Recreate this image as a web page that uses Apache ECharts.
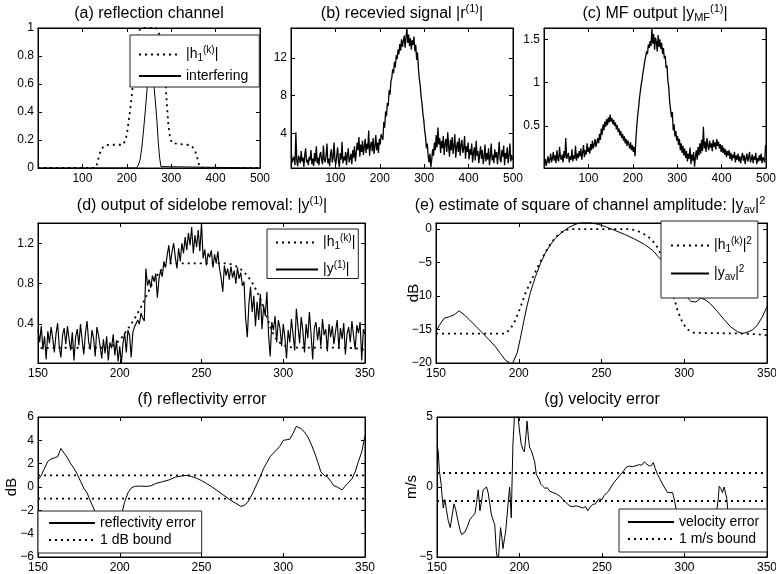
<!DOCTYPE html>
<html><head><meta charset="utf-8">
<script src="https://cdn.jsdelivr.net/npm/echarts@6/dist/echarts.min.js"></script>
<style>html,body{margin:0;padding:0;background:#fff}#c{width:776px;height:574px}</style>
</head><body><div id="c"></div>
<script>
const FONT = '"Liberation Sans", Arial, Helvetica, sans-serif';

// ---------- (a) reflection channel ----------
const h1X = [0,128,132,137,142,147,152,160,192,195,198,201,204,207,210,213,216,219,222,225,228,231,266,270,274,278,281,284,287,290,293,296,299,302,306,335,343,348,353,358,363,367,500];
const h1Y = [0,0,0.02,0.08,0.13,0.15,0.163,0.166,0.166,0.18,0.21,0.26,0.33,0.4,0.48,0.57,0.67,0.77,0.86,0.93,0.98,1.0,1.0,0.983,0.944,0.88,0.81,0.72,0.61,0.47,0.33,0.245,0.2,0.178,0.168,0.166,0.163,0.15,0.13,0.08,0.02,0,0];
const intX = [0,222,226,230,234,238,242,246,250,254,258,262,265,268,271,274,277,279,500];
const intY = [0,0,0.02,0.06,0.15,0.28,0.42,0.58,0.72,0.77,0.7,0.56,0.45,0.33,0.18,0.07,0.01,0,0];

// ---------- (b) received signal |r| (samples x = 1,3,5,...,499) ----------
const bX0 = 1, bStep = 2;
const bVals = [
1.8,0.9,1.2,1.5,0.6,4.1,1.1,0.5,1.6,1.3,
0.8,2.1,1.0,1.4,0.4,1.7,2.4,0.9,1.2,0.6,
1.5,1.1,2.2,0.7,1.3,0.5,1.9,1.0,2.6,0.8,
1.4,0.6,1.7,2.0,1.1,0.7,2.7,1.2,0.9,1.6,
2.9,0.8,1.3,0.5,1.8,2.3,0.9,1.4,3.0,1.1,
0.7,1.6,2.5,1.0,0.4,1.9,1.2,3.1,0.8,1.5,
1.1,2.0,0.6,1.7,2.4,0.9,1.3,1.8,0.7,2.2,
1.4,2.6,1.0,1.9,3.0,2.2,3.6,1.5,2.8,2.0,
3.2,1.7,2.5,3.4,1.9,2.9,2.3,4.3,1.6,2.7,
3.1,2.1,3.5,1.8,2.6,3.8,2.2,3.0,1.9,3.4,
2.8,3.9,4.1,3.3,5.2,4.6,6.3,5.8,7.2,6.9,
8.6,8.1,9.5,9.9,10.8,10.4,11.6,11.0,12.3,11.9,
12.9,12.4,13.5,12.8,14.0,13.2,13.8,14.4,13.1,14.2,
15.2,13.6,14.5,13.3,14.1,12.9,13.9,13.4,14.3,12.7,
13.4,11.8,12.6,10.9,9.8,9.1,7.9,7.2,6.1,5.4,
4.3,3.6,2.4,2.9,1.5,0.9,1.8,0.4,1.2,2.3,
1.6,3.0,2.2,3.8,2.5,4.6,2.8,3.5,1.9,3.2,
2.4,3.7,1.7,2.9,3.4,2.0,4.1,2.6,1.5,3.3,
2.2,3.6,1.8,2.7,3.9,1.4,2.5,3.1,2.0,3.5,
1.6,2.8,3.3,1.9,2.4,3.7,1.3,2.6,2.0,3.0,
1.2,2.3,1.7,2.9,0.9,1.9,2.5,1.1,3.2,1.6,
2.1,0.8,1.8,2.6,1.3,2.2,0.7,1.5,2.8,1.0,
1.9,1.2,2.4,0.6,1.6,2.9,1.1,1.7,0.8,2.3,
1.4,2.0,0.7,1.8,3.1,1.2,0.9,2.2,1.5,2.7,
0.6,1.9,1.3,2.5,0.8,1.6,2.9,1.0,1.7,1.2];

// ---------- (c) MF output |y_MF| (samples x = 1,3,5,...,499) ----------
const cX0 = 1, cStep = 2;
const cVals = [
0.06,0.12,0.04,0.09,0.15,0.07,0.11,0.18,0.08,0.13,
0.2,0.1,0.16,0.07,0.22,0.12,0.09,0.26,0.14,0.11,
0.17,0.08,0.21,0.13,0.36,0.12,0.1,0.19,0.08,0.15,
0.11,0.23,0.09,0.16,0.12,0.27,0.1,0.18,0.13,0.21,
0.15,0.24,0.11,0.19,0.28,0.14,0.22,0.17,0.3,0.2,
0.25,0.18,0.29,0.22,0.33,0.24,0.28,0.35,0.26,0.31,
0.36,0.3,0.41,0.34,0.47,0.4,0.52,0.45,0.55,0.49,
0.58,0.51,0.6,0.54,0.63,0.55,0.59,0.52,0.57,0.5,
0.54,0.46,0.51,0.43,0.47,0.39,0.44,0.36,0.41,0.33,
0.38,0.3,0.35,0.27,0.33,0.29,0.24,0.31,0.22,0.28,
0.2,0.26,0.15,0.35,0.5,0.62,0.71,0.82,0.9,0.98,
1.04,1.12,1.18,1.25,1.3,1.36,1.33,1.44,1.4,1.48,
1.42,1.63,1.45,1.56,1.38,1.52,1.47,1.36,1.55,1.41,
1.5,1.39,1.46,1.33,1.4,1.28,1.31,1.17,1.2,1.02,
0.95,0.78,0.8,0.6,0.66,0.45,0.52,0.38,0.44,0.33,
0.38,0.28,0.35,0.22,0.3,0.19,0.27,0.16,0.24,0.13,
0.21,0.09,0.18,0.12,0.25,0.06,0.17,0.1,0.2,0.03,
0.14,0.22,0.11,0.26,0.16,0.3,0.18,0.34,0.21,0.49,
0.24,0.32,0.2,0.36,0.27,0.22,0.33,0.25,0.3,0.21,
0.34,0.26,0.31,0.23,0.35,0.27,0.32,0.24,0.29,0.2,
0.28,0.19,0.25,0.17,0.23,0.14,0.21,0.16,0.22,0.12,
0.19,0.1,0.17,0.13,0.2,0.08,0.16,0.11,0.18,0.09,
0.15,0.07,0.14,0.19,0.1,0.16,0.06,0.13,0.18,0.09,
0.14,0.2,0.08,0.12,0.17,0.07,0.15,0.11,0.19,0.06,
0.13,0.09,0.16,0.1,0.18,0.07,0.14,0.11,0.08,0.28];

// ---------- (d) sidelobe removal |y(1)| (samples x = 150..350) ----------
const dX0 = 150, dStep = 1;
const dVals = [
0.35,0.22,0.38,0.15,0.28,0.05,0.33,0.21,0.37,0.26,
0.12,0.3,0.41,0.18,0.07,0.29,0.36,0.2,0.38,0.25,
0.14,0.32,0.04,0.27,0.35,0.19,0.4,0.24,0.1,0.31,
0.43,0.22,0.15,0.34,0.26,0.08,0.37,0.29,0.18,0.06,
0.25,0.11,0.28,0.04,0.22,0.16,0.3,0.09,0.24,0.03,
0.18,0.01,0.21,0.31,0.12,0.34,0.29,0.07,0.32,0.37,
0.36,0.44,0.4,0.51,0.46,0.43,0.95,0.78,0.84,0.76,
0.88,0.82,0.9,0.66,0.85,0.93,0.87,1.02,0.96,1.08,
1.18,1.0,1.12,1.2,1.06,0.95,1.15,1.02,1.2,1.1,
1.26,1.13,1.3,1.18,1.36,1.1,1.28,1.16,1.33,1.12,
1.4,1.05,1.14,0.98,1.1,1.06,1.13,0.96,1.09,1.0,
1.12,0.95,0.86,0.72,0.98,0.88,0.95,0.84,0.97,0.86,
0.93,0.8,0.96,0.85,0.91,0.78,0.82,0.46,0.27,0.6,
0.77,0.52,0.68,0.38,0.62,0.44,0.7,0.35,0.58,0.48,
0.72,0.3,0.08,0.42,0.34,0.48,0.22,0.44,0.36,0.18,
0.4,0.27,0.06,0.34,0.22,0.45,0.3,0.14,0.55,0.38,
0.21,0.47,0.33,0.12,0.4,0.26,0.52,0.3,0.05,0.36,
0.42,0.24,0.37,0.18,0.45,0.29,0.35,0.13,0.4,0.27,
0.38,0.2,0.33,0.44,0.16,0.36,0.25,0.41,0.1,0.3,
0.37,0.22,0.43,0.28,0.15,0.39,0.31,0.42,0.04,0.35,
0.3];

// ---------- (e) square of channel amplitude (dB) ----------
const eDX = [150,192,195,198,201,204,207,210,213,216,219,222,225,228,231,266,270,274,278,281,284,287,290,293,296,299,302,306,335,343,348,350];
const eDY = [-15.6,-15.6,-14.9,-13.6,-11.7,-9.6,-8.0,-6.4,-4.9,-3.5,-2.3,-1.3,-0.6,-0.2,0,0,-0.15,-0.5,-1.1,-1.8,-2.8,-4.3,-6.5,-9.5,-12.2,-14.0,-15.0,-15.5,-15.6,-15.7,-15.8,-15.9];
const eSX = [150,152,155,158,161,164,167,170,174,178,182,186,189,192,194,196,197,199,201,203,205,207,210,213,216,219,222,226,230,234,238,243,248,253,258,264,270,276,281,286,290,294,298,301,304,307,310,313,316,320,324,328,332,335,338,341,344,347,350];
const eSY = [-15.3,-14.4,-13.3,-13.1,-12.8,-12.2,-12.8,-13.5,-14.5,-15.5,-16.5,-17.6,-18.6,-19.6,-19.9,-20.2,-20.0,-18.5,-16.3,-13.8,-11.5,-9.5,-7.2,-5.2,-3.6,-2.4,-1.4,-0.5,0.2,0.7,0.95,0.95,0.7,0.3,-0.2,-0.8,-1.5,-2.3,-3.2,-4.6,-6.3,-8.0,-9.3,-10.0,-10.8,-10.9,-10.3,-10.6,-11.2,-12.3,-13.5,-14.6,-15.3,-15.6,-15.4,-15.1,-14.4,-13.2,-11.6];

// ---------- (f) reflectivity error (dB) ----------
const fX = [150,152,154,156,158,160,162,164,166,168,170,172,174,176,178,180,182,184,186,190,194,198,201,203,205,207,209,212,216,219,222,226,230,234,238,241,244,247,250,253,256,259,262,265,268,271,274,276,278,280,282,284,286,288,290,292,294,296,298,300,302,304,306,308,309,311,313,315,317,319,321,323,325,327,329,331,333,334,336,338,340,342,344,346,348,350];
const fY = [0.6,1.0,1.6,2.2,2.4,2.5,2.6,3.3,2.9,2.5,2.0,1.6,1.1,0.5,-0.1,-0.5,-1.2,-1.8,-2.6,-4.0,-4.8,-4.0,-2.4,-1.3,-0.5,-0.1,0.05,0.08,0.05,0.1,0.3,0.45,0.6,0.85,0.95,1.0,0.9,0.75,0.55,0.3,0.05,-0.25,-0.55,-0.85,-1.15,-1.4,-1.65,-1.6,-1.35,-0.9,-0.3,0.3,0.9,1.6,2.1,2.6,2.9,3.2,3.5,4.0,4.05,4.1,4.6,5.2,5.3,5.0,4.7,4.3,3.7,3.0,2.2,1.3,1.0,0.85,0.5,0.1,0.0,0.05,-0.25,0.1,0.4,0.7,1.3,2.2,3.0,4.4];
const fBound = 1;

// ---------- (g) velocity error (m/s) ----------
const gX = [150,150.7,151.4,152.5,153.2,153.8,154.8,155.8,156.8,158,159,160.3,161.3,162.5,164,165,167,168.5,170,171.5,173,174,175,176,177,178,180,181,182,183,185,186,187,188,188.5,189.3,190,191,191.6,192.5,193,194,195,196,197,198,199,200,201,202,203,204,204.6,205.4,206.2,207.2,208.2,209.2,210.2,211,212,213,214.2,215.5,216.8,218.3,219.5,220.5,222.3,223.5,225,226.3,227.5,229,230.4,232,234.4,236,238.4,240,241.4,243,244.4,246,247,248.5,250,251.3,252.5,254,256.5,258.5,260.6,262,263.5,264.6,265.5,266.5,268.6,270,272.7,274,275.7,277,278.7,280,281.1,282.3,283.7,285,286.7,288.2,289.8,291,292.8,294,294.8,296.8,300,305,310,315,319,320.5,321,322,323,324,325,325.6,326.2,328,333,338,343,347,350];
const gY = [3.0,2.6,1.2,0.2,-0.8,-1.5,-0.9,-1.7,-2.4,-2.9,-3.0,-1.2,-1.6,-2.3,-3.1,-3.4,-3.2,-2.8,-2.3,-2.1,-1.9,-1.1,-0.2,-1.7,-1.0,-0.2,0.0,-0.4,-1.2,-2.0,-2.7,-4.6,-5.5,-3.8,-2.9,-3.6,-4.4,-3.6,-3.2,-2.0,-1.3,0.0,-2.2,3.0,5.2,5.5,5.2,4.0,3.1,2.7,2.5,3.8,4.7,3.5,2.8,2.6,2.5,1.8,0.9,0.8,0.5,0.2,0.05,-0.1,-0.05,-0.3,-0.2,-0.4,-0.5,-0.45,-0.7,-0.9,-1.0,-1.2,-1.35,-1.4,-1.35,-1.4,-1.5,-1.4,-1.7,-1.4,-1.25,-1.2,-1.0,-0.85,-0.9,-0.6,-0.5,-0.3,0.2,0.5,0.8,1.0,1.2,1.4,1.3,1.5,1.45,1.5,1.6,1.55,1.8,1.65,1.5,1.55,1.75,1.3,0.9,0.6,0.2,-0.1,-0.4,-0.35,-0.4,-1.0,-1.5,-2.0,-2.8,-3.3,-3.0,-2.6,-2.2,-0.8,0.05,-0.1,-0.4,0.0,0.1,-0.8,-1.6,-2.4,-2.9,-3.3,-3.8,-4.2,-4.4];
const gBound = 1;

// ---------- tick labels ----------
const ticksX500 = [100,200,300,400,500];
const ticksX350 = [150,200,250,300,350];
const ticksYa = [0,0.2,0.4,0.6,0.8,1];
const ticksYb = [4,8,12];
const ticksYc = [0.5,1,1.5];
const ticksYd = [0.4,0.8,1.2];
const ticksYe = [-20,-15,-10,-5,0];
const ticksYf = [-6,-4,-2,0,2,4,6];
const ticksYg = [-5,0,5];

// ---------- layout ----------
const grids = [
  {left:38, top:28, width:222, height:140},
  {left:291, top:28, width:222, height:140},
  {left:544, top:28, width:222, height:140},
  {left:38, top:223, width:327, height:140},
  {left:436, top:223, width:331, height:140},
  {left:38, top:417, width:327, height:140},
  {left:437, top:417, width:330, height:140}
].map(g => Object.assign({show:true, borderColor:'#000', borderWidth:1, backgroundColor:'#fff', containLabel:false, outerBoundsMode:'none'}, g));

const fmt = v => String(v).replace('-', '\u2212');
const xAxes = [], yAxes = [];
function addAxes(gi, xr, yr) {
  const line = {show:true, onZero:false, lineStyle:{color:'#000', width:1}};
  const tick = vals => ({show:true, inside:true, length:4, lineStyle:{color:'#000', width:1}, customValues:vals});
  const lab = vals => ({show:true, customValues:vals, color:'#000', fontSize:12, fontFamily:FONT, formatter:fmt});
  xAxes.push({gridIndex:gi, type:'value', position:'bottom', min:xr[0], max:xr[1], splitLine:{show:false}, axisLine:line, axisTick:tick(xr[2]), axisLabel:Object.assign(lab(xr[2]), {margin:5})});
  xAxes.push({gridIndex:gi, type:'value', position:'top', min:xr[0], max:xr[1], splitLine:{show:false}, axisLine:line, axisTick:tick(xr[2]), axisLabel:{show:false}});
  const yl = {gridIndex:gi, type:'value', position:'left', min:yr[0], max:yr[1], splitLine:{show:false}, axisLine:line, axisTick:tick(yr[2]), axisLabel:Object.assign(lab(yr[2]), {margin:4})};
  if (yr[3]) Object.assign(yl, {name:yr[3], nameLocation:'middle', nameGap:yr[4], nameRotate:90, nameMoveOverlap:false, nameTextStyle:{fontSize:15, color:'#000', fontFamily:FONT}});
  yAxes.push(yl);
  yAxes.push({gridIndex:gi, type:'value', position:'right', min:yr[0], max:yr[1], splitLine:{show:false}, axisLine:line, axisTick:tick(yr[2]), axisLabel:{show:false}});
}
addAxes(0, [0,500,ticksX500], [0,1,ticksYa]);
addAxes(1, [0,500,ticksX500], [0.3,15.2,ticksYb]);
addAxes(2, [0,500,ticksX500], [0.015,1.63,ticksYc]);
addAxes(3, [150,350,ticksX350], [0.015,1.4,ticksYd]);
addAxes(4, [150,350,ticksX350], [-20,0.9,ticksYe,'dB',15]);
addAxes(5, [150,350,ticksX350], [-6,6,ticksYf,'dB',19]);
addAxes(6, [150,350,ticksX350], [-5,5,ticksYg,'m/s',18]);

const zip = (xs, ys) => xs.map((x, i) => [x, ys[i]]);
const seq = (x0, st, vals) => vals.map((v, i) => [x0 + i * st, v]);
const DOT = [2, 4];
function ln(name, gi, data, dotted, w) {
  return {type:'line', name, xAxisIndex:2*gi, yAxisIndex:2*gi, data, symbol:'none', showSymbol:false, clip:true, silent:true,
    lineStyle:{color:'#000', width:w || (dotted ? 1.8 : 1), type:dotted ? DOT : 'solid'}, itemStyle:{color:'#000'}, z:2};
}
const series = [
  ln('h1', 0, zip(h1X, h1Y), true),
  ln('interf', 0, zip(intX, intY), false),
  ln('r1', 1, seq(bX0, bStep, bVals), false, 1.3),
  ln('ymf', 2, seq(cX0, cStep, cVals), false, 1.3),
  ln('h1', 3, zip(h1X, h1Y), true),
  ln('y1', 3, seq(dX0, dStep, dVals), false, 1.15),
  ln('h1sq', 4, zip(eDX, eDY), true),
  ln('yav', 4, zip(eSX, eSY), false),
  ln('refl', 5, zip(fX, fY), false),
  ln('bdb', 5, [[150, fBound], [350, fBound]], true),
  ln('bdb', 5, [[150, -fBound], [350, -fBound]], true),
  ln('vel', 6, zip(gX, gY), false),
  ln('bms', 6, [[150, gBound], [350, gBound]], true),
  ln('bms', 6, [[150, -gBound], [350, -gBound]], true)
];

const RICH_L = {
  sup:{fontSize:10, fontFamily:FONT, color:'#000', padding:[0,0,9,0]},
  sub:{fontSize:10, fontFamily:FONT, color:'#000', padding:[7,0,0,0]}
};
const LEG_TEXT = {h1:'|h{sub|1}{sup|(k)}|', interf:'interfering', y1:'|y{sup|(1)}|', h1sq:'|h{sub|1}{sup|(k)}|{sup|2}', yav:'|y{sub|av}|{sup|2}', refl:'reflectivity error', bdb:'1 dB bound', vel:'velocity error', bms:'1 m/s bound'};
function legend(data, left, top, pad, gap, iw) {
  return {data, left, top, orient:'vertical', padding:pad, itemGap:gap, itemWidth:iw, itemHeight:14,
    backgroundColor:'#fff', borderColor:'#222', borderWidth:1, borderRadius:0, selectedMode:false, z:10,
    itemStyle:{opacity:0, borderWidth:0},
    textStyle:{fontSize:14, fontFamily:FONT, color:'#000', rich:RICH_L}, formatter:n => LEG_TEXT[n]};
}
const legends = [
  legend(['h1','interf'], 130, 35, [10,11,4,8], 6, 42),
  legend(['h1','y1'], 267, 229, [4,3,2,8], 9, 42),
  legend(['h1sq','yav'], 661, 221, [15,6,16,9], 10, 38),
  legend(['refl','bdb'], 38, 511, [5,6,6,10], 3, 46),
  legend(['vel','bms'], 619, 509, [6,8,6,8], 3, 46)
];

const RICH_T = {sup:{fontSize:11, fontFamily:FONT, color:'#000', padding:[0,0,10,0]}, sub:{fontSize:11, fontFamily:FONT, color:'#000', padding:[8,0,0,0]}};
function ttl(text, cx, cy) {
  return {text, left:cx, top:cy, textAlign:'center', textVerticalAlign:'middle', padding:0,
    textStyle:{fontSize:16, fontWeight:'normal', fontFamily:FONT, color:'#000', rich:RICH_T}};
}
const titles = [
  ttl('(a) reflection channel', 149, 14),
  ttl('(b) recevied signal |r{sup|(1)}|', 402, 14),
  ttl('(c) MF output |y{sub|MF}{sup|(1)}|', 655, 14),
  ttl('(d) output of sidelobe removal: |y{sup|(1)}|', 202, 206),
  ttl('(e) estimate of square of channel amplitude: |y{sub|av}|{sup|2}', 590, 206),
  ttl('(f) reflectivity error', 202, 400),
  ttl('(g) velocity error', 602, 400)
];

const chart = echarts.init(document.getElementById('c'), null, {renderer:'canvas'});
chart.setOption({
  animation:false, backgroundColor:'#fff', textStyle:{fontFamily:FONT},
  title:titles, grid:grids, xAxis:xAxes, yAxis:yAxes, legend:legends, series
});
</script></body></html>
